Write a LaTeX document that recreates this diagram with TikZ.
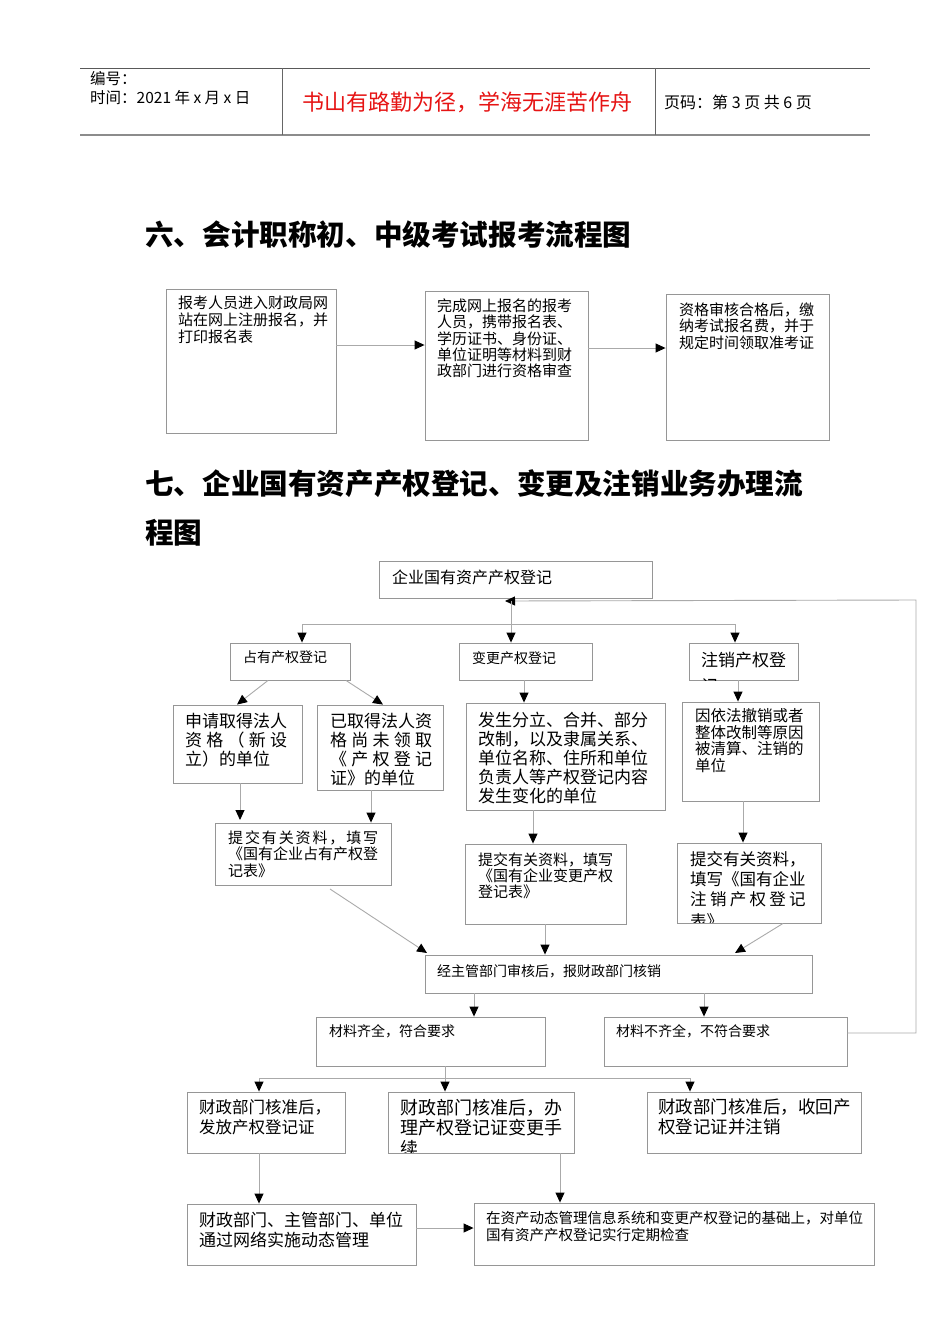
\documentclass[tikz,border=0pt]{standalone}
\usepackage{fontspec}
\setmainfont{Noto Sans CJK SC}
\usetikzlibrary{arrows.meta}
\definecolor{hdrred}{RGB}{230,20,20}
\definecolor{boxgray}{RGB}{150,150,150}
\definecolor{linegray}{RGB}{170,170,170}
\newcommand\fs[2]{\fontsize{#1}{#2}\selectfont}
\tikzset{
  box/.style={draw=boxgray, line width=0.9pt, inner sep=0pt},
  arr/.style={draw=linegray, line width=0.9pt, -{Triangle[width=9pt,length=10pt,color=black]}},
  ln/.style={draw=linegray, line width=0.9pt},
  txt/.style={anchor=north west, inner sep=0pt, align=left},
}
\begin{document}
\begin{tikzpicture}[x=1pt,y=-1pt]
\fill[white] (0,0) rectangle (950,1344);
\useasboundingbox (0,0) rectangle (950,1344);

% ---------- header ----------
\draw[draw=black!65, line width=1pt] (80,68) -- (870,68);
\draw[draw=black!45, line width=2.2pt] (80,135) -- (870,135);
\draw[draw=black!60, line width=0.9pt] (282,68) -- (282,135);
\draw[draw=black!60, line width=0.9pt] (655,68) -- (655,135);
\node[txt, font=\fs{15.5}{19}] (h1) at (90,71.5) {编号：\\时间：2021 年 x 月 x 日};
\node[txt, font=\fs{22}{24}, text=hdrred] (h2) at (302,92) {书山有路勤为径，学海无涯苦作舟};
\node[txt, font=\fs{16}{18}] (h3) at (664,94.5) {页码：第 3 页 共 6 页};

% ---------- headings ----------
\node[txt, font=\fs{28.6}{49}\bfseries] (t6) at (145,220.7) {六、会计职称初、中级考试报考流程图};
\node[txt, font=\fs{28.6}{49}\bfseries] (t7) at (145,469.7) {七、企业国有资产产权登记、变更及注销业务办理流\\程图};

% ---------- section 6 ----------
\node[box, minimum width=170pt, minimum height=144pt] (s1) at (251,361) {};
\node[box, minimum width=163pt, minimum height=149pt] (s2) at (506.5,365.5) {};
\node[box, minimum width=163pt, minimum height=146pt] (s3) at (747.5,367) {};
\node[txt, font=\fs{15}{17}] (s1t) at (178,295.5) {报考人员进入财政局网\\站在网上注册报名，并\\打印报名表};
\node[txt, font=\fs{15}{16.3}] (s2t) at (437,298.5) {完成网上报名的报考\\人员，携带报名表、\\学历证书、身份证、\\单位证明等材料到财\\政部门进行资格审查};
\node[txt, font=\fs{15}{16.3}] (s3t) at (679,302.5) {资格审核合格后，缴\\纳考试报名费，并于\\规定时间领取准考证};
\coordinate (y6a) at (0,345);
\coordinate (y6b) at (0,348);
\draw[arr] (s1.east |- y6a) -- (s2.west |- y6a);
\draw[arr] (s2.east |- y6b) -- (s3.west |- y6b);

% ---------- section 7 boxes ----------
\node[box, minimum width=273pt, minimum height=37pt] (t0) at (515.5,579.5) {};
\node[box, minimum width=120pt, minimum height=37pt] (a1) at (290,661.5) {};
\node[box, minimum width=133pt, minimum height=37pt] (a2) at (525.5,661.5) {};
\node[box, minimum width=109pt, minimum height=37pt] (a3) at (743.5,661.5) {};
\node[box, minimum width=129pt, minimum height=78pt] (b1) at (237.5,744) {};
\node[box, minimum width=126pt, minimum height=85pt] (b2) at (380,747.5) {};
\node[box, minimum width=199pt, minimum height=107pt] (b3) at (565.5,756.5) {};
\node[box, minimum width=137pt, minimum height=99pt] (b4) at (750.5,751.5) {};
\node[box, minimum width=176pt, minimum height=62pt] (c1) at (303,854) {};
\node[box, minimum width=161pt, minimum height=80pt] (c2) at (545.5,884) {};
\node[box, minimum width=144pt, minimum height=80pt] (c3) at (749,883) {};
\node[box, minimum width=387pt, minimum height=38pt] (d) at (618.5,974) {};
\node[box, minimum width=229pt, minimum height=49pt] (e1) at (430.5,1041.5) {};
\node[box, minimum width=243pt, minimum height=49pt] (e2) at (725.5,1041.5) {};
\node[box, minimum width=158pt, minimum height=61pt] (f1) at (266,1122.5) {};
\node[box, minimum width=186pt, minimum height=61pt] (f2) at (481,1122.5) {};
\node[box, minimum width=214pt, minimum height=61pt] (f3) at (754,1122.5) {};
\node[box, minimum width=229pt, minimum height=61pt] (g1) at (301.5,1234.5) {};
\node[box, minimum width=400pt, minimum height=62pt] (g2) at (674,1234) {};

% ---------- section 7 texts ----------
\node[txt, font=\fs{16}{18}] (t0t) at (392,570) {企业国有资产产权登记};
\node[txt, font=\fs{14}{16}] (a1t) at (243,651) {占有产权登记};
\node[txt, font=\fs{14}{16}] (a2t) at (472,651) {变更产权登记};
\begin{scope}
  \clip ([shift={(1,1)}]a3.north west) rectangle ([shift={(-1,0)}]a3.south east);
  \node[txt, font=\fs{17}{26}] (a3t) at (701,651.5) {注销产权登\\记};
\end{scope}
\node[txt, font=\fs{17}{19}] (b1t) at (185,713.5) {申请取得法人\\\makebox[102pt]{资\hfill{}格\hfill{}（\hfill{}新\hfill{}设}\\立）的单位};
\node[txt, font=\fs{17}{19}] (b2t) at (330,713.5) {已取得法人资\\\makebox[102pt]{格\hfill{}尚\hfill{}未\hfill{}领\hfill{}取}\\\makebox[102pt]{《\hfill{}产\hfill{}权\hfill{}登\hfill{}记}\\证》的单位};
\node[txt, font=\fs{17}{19}] (b3t) at (478,711.5) {发生分立、合并、部分\\改制，以及隶属关系、\\单位名称、住所和单位\\负责人等产权登记内容\\发生变化的单位};
\node[txt, font=\fs{15.5}{16.5}] (b4t) at (695,708.5) {因依法撤销或者\\整体改制等原因\\被清算、注销的\\单位};
\node[txt, font=\fs{15}{16.5}] (c1t) at (228,830.5) {\makebox[150pt]{提\hfill{}交\hfill{}有\hfill{}关\hfill{}资\hfill{}料\hfill{}，\hfill{}填\hfill{}写}\\《国有企业占有产权登\\记表》};
\node[txt, font=\fs{15}{16}] (c2t) at (478,852.5) {提交有关资料，填写\\《国有企业变更产权\\登记表》};
\begin{scope}
  \clip ([shift={(1,1)}]c3.north west) rectangle ([shift={(-1,-1)}]c3.south east);
  \node[txt, font=\fs{16.5}{20}] (c3t) at (690,851.75) {提交有关资料，\\填写《国有企业\\\makebox[115.5pt]{注\hfill{}销\hfill{}产\hfill{}权\hfill{}登\hfill{}记}\\[1.5pt]表》};
\end{scope}
\node[txt, font=\fs{14}{16}] (dt) at (437,964) {经主管部门审核后，报财政部门核销};
\node[txt, font=\fs{14}{16}] (e1t) at (329,1024) {材料齐全，符合要求};
\node[txt, font=\fs{14}{16}] (e2t) at (616,1024) {材料不齐全，不符合要求};
\node[txt, font=\fs{16.5}{20}] (f1t) at (199,1099.75) {财政部门核准后，\\发放产权登记证};
\begin{scope}
  \clip ([shift={(1,1)}]f2.north west) rectangle ([shift={(-1,-1)}]f2.south east);
  \node[txt, font=\fs{18}{20}] (f2t) at (400,1099) {财政部门核准后，办\\理产权登记证变更手\\[1pt]续};
\end{scope}
\node[txt, font=\fs{17.5}{20}] (f3t) at (658,1099) {财政部门核准后，收回产\\权登记证并注销};
\node[txt, font=\fs{17}{20}] (g1t) at (199,1211.5) {财政部门、主管部门、单位\\通过网络实施动态管理};
\node[txt, font=\fs{14.5}{17}] (g2t) at (486,1210.75) {在资产动态管理信息系统和变更产权登记的基础上，对单位\\国有资产产权登记实行定期检查};

% ---------- section 7 connectors ----------
\coordinate (loopR) at (916,600);
\coordinate (loopT) at (505,601);
\coordinate (ctop) at (511,601);
\coordinate (br1) at (511,624);
\coordinate (brL) at (302,624);
\coordinate (brR) at (735,624);
\coordinate (yloop) at (0,1033);
% return loop from "not complete"
\draw[arr] (e2.east |- yloop) -| (loopR) -- (loopT);
\draw[ln] (ctop) -- (br1);
\draw[ln] (brL) -- (brR);
\draw[arr] (brL) -- (a1.north -| brL);
\draw[arr] (br1) -- (a2.north -| br1);
\draw[arr] (brR) -- (a3.north -| brR);
% level a -> b
\coordinate (xa) at (268,0); \coordinate (xb) at (237,0);
\coordinate (xc) at (346,0); \coordinate (xd) at (383,0);
\draw[arr] (a1.south -| xa) -- (b1.north -| xb);
\draw[arr] (a1.south -| xc) -- (b2.north -| xd);
\coordinate (xe) at (524,0);
\draw[arr] (a2.south -| xe) -- (b3.north -| xe);
\coordinate (xf) at (738,0);
\draw[arr] (a3.south -| xf) -- (b4.north -| xf);
% level b -> c
\coordinate (xg) at (240,0); \coordinate (yg) at (0,820);
\draw[arr] (b1.south -| xg) -- (xg |- yg);
\coordinate (xh) at (371,0);
\draw[arr] (b2.south -| xh) -- (c1.north -| xh);
\coordinate (xi) at (533,0);
\draw[arr] (b3.south -| xi) -- (c2.north -| xi);
\coordinate (xj) at (743,0);
\draw[arr] (b4.south -| xj) -- (c3.north -| xj);
% level c -> d
\coordinate (xk) at (330,0); \coordinate (xl) at (427,0);
\coordinate (yk) at (0,889); \coordinate (yl) at (0,953);
\draw[arr] (xk |- yk) -- (xl |- yl);
\coordinate (xm) at (545,0);
\draw[arr] (c2.south -| xm) -- (d.north -| xm);
\coordinate (xn) at (783,0); \coordinate (xo) at (735,0);
\draw[arr] (c3.south -| xn) -- (xo |- yl);
% d -> e
\coordinate (xp) at (474,0); \coordinate (xq) at (704,0);
\draw[arr] (d.south -| xp) -- (e1.north -| xp);
\draw[arr] (d.south -| xq) -- (e2.north -| xq);
% e1 -> f
\coordinate (fb) at (445,1078);
\coordinate (fL) at (259,1078);
\coordinate (fR) at (690,1078);
\draw[ln] (e1.south -| fb) -- (fb);
\draw[ln] (fL) -- (fR);
\draw[arr] (fL) -- (f1.north -| fL);
\draw[arr] (fb) -- (f2.north -| fb);
\draw[arr] (fR) -- (f3.north -| fR);
% f -> g
\draw[arr] (f1.south -| fL) -- (g1.north -| fL);
\coordinate (xr) at (560,0);
\draw[arr] (f2.south -| xr) -- (g2.north -| xr);
\coordinate (ys) at (0,1228);
\draw[arr] (g1.east |- ys) -- (g2.west |- ys);
\end{tikzpicture}
\end{document}
